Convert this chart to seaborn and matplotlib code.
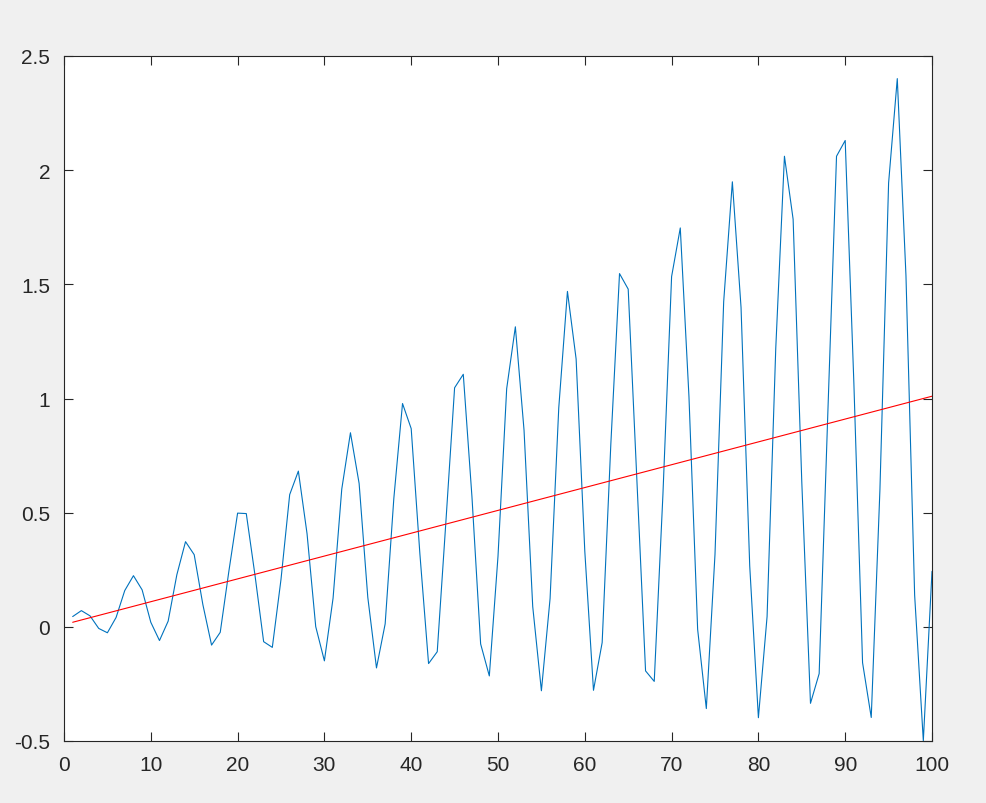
import numpy as np
import pandas as pd
import seaborn as sns
import matplotlib.pyplot as plt

# blue signal, one value per sample 1..100
sample = list(range(1, 101))
signal = [
    0.045, 0.071, 0.048, -0.007, -0.026, 0.041, 0.159, 0.224, 0.162, 0.020,
    -0.060, 0.025, 0.228, 0.373, 0.316, 0.097, -0.080, -0.024, 0.245, 0.498,
    0.496, 0.227, -0.065, -0.090, 0.208, 0.579, 0.682, 0.408, 0.001, -0.149,
    0.126, 0.603, 0.850, 0.628, 0.129, -0.180, 0.013, 0.563, 0.978, 0.868,
    0.320, -0.161, -0.109, 0.462, 1.047, 1.106, 0.569, -0.075, -0.215, 0.309,
    1.043, 1.314, 0.861, 0.089, -0.280, 0.124, 0.959, 1.469, 1.173, 0.331,
    -0.278, -0.069, 0.801, 1.547, 1.479, 0.643, -0.193, -0.239, 0.579, 1.534,
    1.747, 1.008, -0.011, -0.358, 0.318, 1.424, 1.949, 1.399, 0.267, -0.398,
    0.045, 1.220, 2.061, 1.785, 0.633, -0.335, -0.205, 0.937, 2.061, 2.130,
    1.066, -0.157, -0.397, 0.600, 1.944, 2.401, 1.538, 0.139, -0.499, 0.243,
]

# red trend line end points
trend_x = [1, 100]
trend_y = [0.02, 1.01]

x_ticks = [0, 10, 20, 30, 40, 50, 60, 70, 80, 90, 100]
y_ticks = [-0.5, 0, 0.5, 1, 1.5, 2, 2.5]
y_labels = ["-0.5", "0", "0.5", "1", "1.5", "2", "2.5"]

sns.set_style("ticks")
plt.rcParams["font.family"] = ["Liberation Sans", "DejaVu Sans"]

fig = plt.figure(figsize=(9.86, 8.04), dpi=100, facecolor="#f0f0f0")
ax = fig.add_axes([64 / 986, 62 / 804, 868 / 986, 685 / 804])
ax.set_facecolor("white")

df = pd.DataFrame({"x": sample, "y": signal})
tr = pd.DataFrame({"x": trend_x, "y": trend_y})
sns.lineplot(data=df, x="x", y="y", ax=ax, color="#0072BD", linewidth=0.8)
sns.lineplot(data=tr, x="x", y="y", ax=ax, color="#ff0000", linewidth=0.8)

ax.set_xlim(0, 100)
ax.set_ylim(-0.5, 2.5)
ax.set_xticks(x_ticks)
ax.set_xticklabels([str(t) for t in x_ticks])
ax.set_yticks(y_ticks)
ax.set_yticklabels(y_labels)
ax.set_xlabel("")
ax.set_ylabel("")

for side in ["top", "right", "bottom", "left"]:
    ax.spines[side].set_visible(True)
    ax.spines[side].set_color("#262626")
    ax.spines[side].set_linewidth(0.8)

ax.tick_params(axis="both", direction="in", length=6.5, width=0.8,
               color="#262626", labelsize=15, labelcolor="#262626",
               top=True, right=True)
ax.tick_params(axis="x", pad=10)
ax.tick_params(axis="y", pad=10)

fig.savefig("out.png", dpi=100, facecolor=fig.get_facecolor())
